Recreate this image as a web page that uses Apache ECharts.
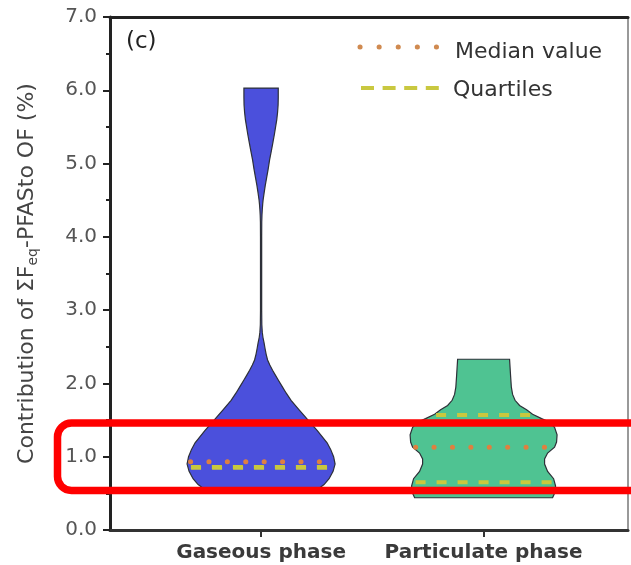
<!DOCTYPE html>
<html>
<head>
<meta charset="utf-8">
<script src="https://cdn.jsdelivr.net/npm/echarts@6/dist/echarts.min.js"></script>
<style>
html,body{margin:0;padding:0;background:#fff;}
#chart{width:631px;height:565px;}
</style>
</head>
<body>
<div id="chart"></div>
<script>
// ---- data ----
const categories = ['Gaseous phase', 'Particulate phase'];
const yTickLabels = ['0.0', '1.0', '2.0', '3.0', '4.0', '5.0', '6.0', '7.0'];

// violin outline: y value and relative density (1 = widest)
const gaseousY = [0.57, 0.62, 0.7, 0.8, 0.9, 1.0, 1.1, 1.19, 1.36, 1.5, 1.64, 1.77, 1.87, 1.96, 2.05, 2.12, 2.18, 2.25, 2.32, 2.4, 2.48, 2.55, 2.63, 2.7, 2.8, 3.0, 3.5, 4.0, 4.2, 4.3, 4.37, 4.45, 4.5, 4.6, 4.7, 4.8, 4.92, 5.05, 5.18, 5.3, 5.4, 5.5, 5.6, 5.7, 5.8, 5.9, 6.03];
const gaseousDensity = [0.784, 0.851, 0.919, 0.973, 1.0, 0.980, 0.940, 0.892, 0.757, 0.635, 0.514, 0.405, 0.338, 0.284, 0.230, 0.189, 0.155, 0.118, 0.088, 0.068, 0.053, 0.041, 0.025, 0.016, 0.010, 0.008, 0.008, 0.008, 0.009, 0.012, 0.016, 0.022, 0.027, 0.041, 0.056, 0.074, 0.095, 0.115, 0.140, 0.162, 0.180, 0.196, 0.212, 0.223, 0.230, 0.232, 0.232];

const particulateY = [0.44, 0.5, 0.6, 0.7, 0.8, 0.9, 0.97, 1.05, 1.13, 1.2, 1.3, 1.4, 1.47, 1.52, 1.58, 1.64, 1.7, 1.77, 1.85, 1.95, 2.1, 2.33];
const particulateDensity = [0.932, 0.959, 0.973, 0.946, 0.865, 0.824, 0.824, 0.865, 0.959, 0.986, 0.993, 0.959, 0.892, 0.784, 0.662, 0.581, 0.486, 0.425, 0.392, 0.375, 0.365, 0.351];

const medians = [0.93, 1.13];
const lowerQuartiles = [0.85, 0.65];
const upperQuartiles = [0.86, 1.57];

// ---- rendering ----
const profiles = [
  {y: gaseousY, d: gaseousDensity, color: '#4B50DC'},
  {y: particulateY, d: particulateDensity, color: '#4FC392'}
];
const HALF_WIDTH = 0.3326; // x-axis units for density 1

function densityAt(p, v) {
  const ys = p.y, ds = p.d;
  if (v <= ys[0]) return ds[0];
  for (let i = 1; i < ys.length; i++) {
    if (v <= ys[i]) {
      const t = (v - ys[i - 1]) / (ys[i] - ys[i - 1]);
      return ds[i - 1] + t * (ds[i] - ds[i - 1]);
    }
  }
  return ds[ds.length - 1];
}

function renderItem(params, api) {
  const idx = api.value(0);
  const p = profiles[idx];
  const pts = [];
  for (let i = 0; i < p.y.length; i++) pts.push(api.coord([idx + p.d[i] * HALF_WIDTH, p.y[i]]));
  for (let i = p.y.length - 1; i >= 0; i--) pts.push(api.coord([idx - p.d[i] * HALF_WIDTH, p.y[i]]));
  const children = [{
    type: 'polygon',
    shape: {points: pts},
    style: {fill: p.color, stroke: '#2d3038', lineWidth: 1.2}
  }];
  function hline(v, style) {
    const d = densityAt(p, v) * HALF_WIDTH;
    const a = api.coord([idx - d, v]);
    const b = api.coord([idx + d, v]);
    children.push({
      type: 'line',
      shape: {x1: a[0] + 3, y1: a[1], x2: b[0] - 3, y2: b[1]},
      style: style
    });
  }
  const qStyle = {stroke: '#C9C83E', lineWidth: 4, lineDash: [10, 11], fill: null};
  hline(lowerQuartiles[idx], qStyle);
  hline(upperQuartiles[idx], qStyle);
  hline(medians[idx], {stroke: '#DE8040', lineWidth: 5, lineDash: [0.1, 18.3], lineCap: 'round', fill: null});
  return {type: 'group', children: children};
}

const chart = echarts.init(document.getElementById('chart'), null, {renderer: 'canvas'});
const font = 'DejaVu Sans';
chart.setOption({
  animation: false,
  backgroundColor: '#fff',
  grid: {left: 110, right: 3, top: 17, bottom: 35},
  xAxis: [{
    type: 'value', min: -0.679, max: 1.649,
    axisLine: {show: true, onZero: false, lineStyle: {color: '#333', width: 3}},
    axisTick: {show: true, customValues: [0, 1], length: 7, lineStyle: {color: '#333', width: 2}},
    axisLabel: {show: true, customValues: [0, 1], formatter: v => categories[Math.round(v)],
      fontFamily: font, fontSize: 20, fontWeight: 'bold', color: '#3a3a3a', margin: 13},
    splitLine: {show: false}
  }, {
    type: 'value', position: 'top', min: -0.679, max: 1.649,
    axisLine: {show: true, onZero: false, lineStyle: {color: '#222', width: 3}},
    axisTick: {show: false}, axisLabel: {show: false}, splitLine: {show: false}
  }],
  yAxis: [{
    type: 'value', min: 0, max: 7, interval: 1,
    axisLine: {show: true, onZero: false, lineStyle: {color: '#222', width: 3}},
    axisTick: {show: true, length: 7, lineStyle: {color: '#222', width: 2}},
    minorTick: {show: true, splitNumber: 2, length: 4, lineStyle: {color: '#222', width: 2}},
    axisLabel: {formatter: (v, i) => yTickLabels[i], fontFamily: font, fontSize: 20, color: '#555', margin: 13},
    splitLine: {show: false},
    name: '{n|Contribution of ΣF}{s|eq}{n|-PFASto OF (%)}',
    nameLocation: 'middle', nameRotate: 90, nameGap: 70,
    nameTextStyle: {
      rich: {
        n: {fontFamily: font, fontSize: 22, color: '#444', lineHeight: 26},
        s: {fontFamily: font, fontSize: 14, color: '#444', lineHeight: 14, verticalAlign: 'bottom'}
      }
    }
  }, {
    type: 'value', position: 'right', min: 0, max: 7, interval: 1,
    axisLine: {show: true, onZero: false, lineStyle: {color: '#777', width: 1.5}},
    axisTick: {show: false}, axisLabel: {show: false}, splitLine: {show: false}
  }],
  series: [{
    type: 'custom',
    renderItem: renderItem,
    encode: {x: 0, y: 1},
    data: categories.map((c, i) => [i, medians[i]]),
    clip: false,
    z: 5
  }],
  graphic: [
    {type: 'text', left: 126, top: 31, style: {text: '(c)', font: '23px "DejaVu Sans"', fill: '#222'}},
    {type: 'line', shape: {x1: 360, y1: 47, x2: 440, y2: 47},
      style: {stroke: '#D08A50', lineWidth: 5, lineDash: [0.1, 19], lineCap: 'round'}},
    {type: 'line', shape: {x1: 361, y1: 88, x2: 443, y2: 88},
      style: {stroke: '#C9C840', lineWidth: 4, lineDash: [13, 8.6]}},
    {type: 'text', x: 455, y: 52, style: {text: 'Median value', font: '22px "DejaVu Sans"', fill: '#333', verticalAlign: 'middle'}},
    {type: 'text', x: 453, y: 90, style: {text: 'Quartiles', font: '22px "DejaVu Sans"', fill: '#333', verticalAlign: 'middle'}},
    {type: 'rect', z: 100, shape: {x: 57.5, y: 423, width: 700, height: 67.5, r: 14},
      style: {fill: 'none', stroke: '#FF0000', lineWidth: 7.5}}
  ]
});
</script>
</body>
</html>
